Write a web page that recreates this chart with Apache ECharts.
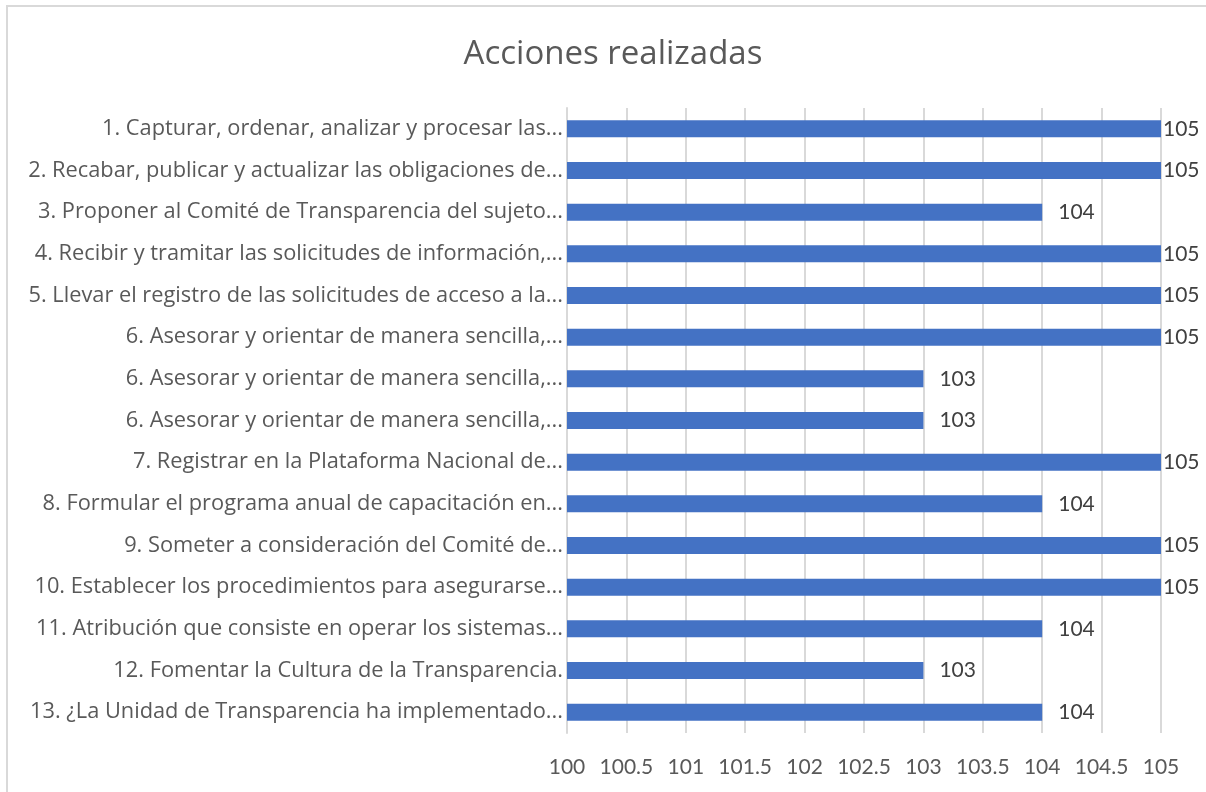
<!DOCTYPE html>
<html>
<head>
<meta charset="utf-8">
<script src="https://cdn.jsdelivr.net/npm/echarts@6/dist/echarts.min.js"></script>
<style>
  html, body { margin: 0; padding: 0; background: #fff; overflow: hidden; }
  #frame {
    position: absolute; left: 6px; top: 5px; width: 1300px; height: 900px;
    border-left: 2px solid #d9d9d9; border-top: 2px solid #d9d9d9;
  }
  #chart { position: absolute; left: 0; top: 0; width: 1206px; height: 792px; }
</style>
</head>
<body>
<div id="frame"></div>
<div id="chart"></div>
<script>
// categorias (de arriba a abajo)
var categories = [
  "1. Capturar, ordenar, analizar y procesar las...",
  "2. Recabar, publicar y actualizar las obligaciones de...",
  "3. Proponer al Comité de Transparencia del sujeto...",
  "4. Recibir y tramitar las solicitudes de información,...",
  "5. Llevar el registro de las solicitudes de acceso a la...",
  "6. Asesorar y orientar de manera sencilla,...",
  "6. Asesorar y orientar de manera sencilla,...",
  "6. Asesorar y orientar de manera sencilla,...",
  "7. Registrar en la Plataforma Nacional de...",
  "8. Formular el programa anual de capacitación en...",
  "9. Someter a consideración del Comité de...",
  "10. Establecer los procedimientos para asegurarse...",
  "11. Atribución que consiste en operar los sistemas...",
  "12. Fomentar la Cultura de la Transparencia.",
  "13. ¿La Unidad de Transparencia ha implementado..."
];
var values = [105, 105, 104, 105, 105, 105, 103, 103, 105, 104, 105, 105, 104, 103, 104];

var xMin = 100;
var xMax = 105;
var xStep = 0.5;

var chart = echarts.init(document.getElementById("chart"));

// etiquetas pegadas al borde cuando la barra llega al maximo
var barData = values.map(function (v) {
  return { value: v, label: { distance: v >= xMax ? 2 : 16 } };
});

chart.setOption({
  animation: false,
  backgroundColor: "transparent",
  title: {
    text: "Acciones realizadas",
    left: 608,
    top: 33,
    textAlign: "center",
    textStyle: {
      fontFamily: "Open Sans",
      fontSize: 33,
      fontWeight: "normal",
      color: "#595959"
    }
  },
  grid: {
    left: 567,
    right: 45,
    top: 108,
    bottom: 59
  },
  xAxis: {
    type: "value",
    min: xMin,
    max: xMax,
    interval: xStep,
    axisLine: { show: false },
    axisTick: { show: false },
    splitLine: { show: true, lineStyle: { color: "#d9d9d9", width: 2 } },
    axisLabel: {
      margin: 24,
      fontFamily: "Lato",
      fontSize: 21,
      color: "#595959"
    }
  },
  yAxis: {
    type: "category",
    inverse: true,
    data: categories,
    axisLine: { show: true, lineStyle: { color: "#d9d9d9", width: 2 } },
    axisTick: { show: false },
    axisLabel: {
      margin: 4,
      fontFamily: "Open Sans",
      fontSize: 21.8,
      color: "#595959"
    }
  },
  series: [
    {
      type: "bar",
      data: barData,
      barWidth: 17,
      itemStyle: { color: "#4472C4" },
      label: {
        show: true,
        position: "right",
        fontFamily: "Lato",
        fontSize: 21,
        color: "#404040"
      }
    }
  ]
});
</script>
</body>
</html>
